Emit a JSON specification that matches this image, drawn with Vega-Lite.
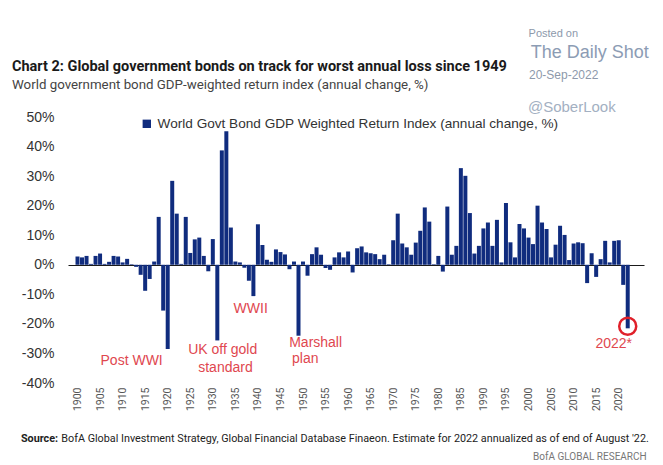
{
  "$schema": "https://vega.github.io/schema/vega-lite/v6.json",
  "width": 576,
  "height": 266,
  "autosize": {"type": "none"},
  "padding": {"left": 68, "top": 117, "right": 19, "bottom": 82},
  "background": "white",
  "config": {
    "view": {"stroke": null},
    "axis": {"labelOverlap": false, "labelBound": false, "labelFlush": false}
  },
  "title": {
    "text": "Chart 2: Global government bonds on track for worst annual loss since 1949",
    "subtitle": "World government bond GDP-weighted return index (annual change, %)",
    "anchor": "start",
    "frame": "group",
    "dx": -56,
    "offset": -64,
    "font": "Roboto",
    "fontSize": 14.5,
    "fontWeight": "bold",
    "color": "#1a1a1a",
    "subtitleFont": "Roboto",
    "subtitleFontSize": 13.3,
    "subtitleColor": "#444444",
    "subtitlePadding": 3
  },
  "data": {"values": [
    {"year": 1900, "value": 2.8}, {"year": 1901, "value": 2.5}, {"year": 1902, "value": 3.0}, {"year": 1903, "value": 0.3},
    {"year": 1904, "value": 3.0}, {"year": 1905, "value": 3.8}, {"year": 1906, "value": 0.3}, {"year": 1907, "value": 1.0},
    {"year": 1908, "value": 3.0}, {"year": 1909, "value": 2.8}, {"year": 1910, "value": 0.8}, {"year": 1911, "value": 2.0},
    {"year": 1912, "value": 0.2}, {"year": 1913, "value": -0.7}, {"year": 1914, "value": -3.4}, {"year": 1915, "value": -8.8},
    {"year": 1916, "value": -4.8}, {"year": 1917, "value": 1.1}, {"year": 1918, "value": 16.2}, {"year": 1919, "value": -15.5},
    {"year": 1920, "value": -28.5}, {"year": 1921, "value": 28.4}, {"year": 1922, "value": 17.3}, {"year": 1923, "value": 0.3},
    {"year": 1924, "value": 16.2}, {"year": 1925, "value": 4.0}, {"year": 1926, "value": 8.6}, {"year": 1927, "value": 9.2},
    {"year": 1928, "value": 3.0}, {"year": 1929, "value": -2.2}, {"year": 1930, "value": 8.7}, {"year": 1931, "value": -25.6},
    {"year": 1932, "value": 38.7}, {"year": 1933, "value": 45.2}, {"year": 1934, "value": 12.6}, {"year": 1935, "value": 1.1},
    {"year": 1936, "value": 0.8}, {"year": 1937, "value": -1.0}, {"year": 1938, "value": -5.4}, {"year": 1939, "value": -10.6},
    {"year": 1940, "value": 13.7}, {"year": 1941, "value": 6.7}, {"year": 1942, "value": 1.7}, {"year": 1943, "value": 1.0},
    {"year": 1944, "value": 5.2}, {"year": 1945, "value": 4.3}, {"year": 1946, "value": 3.5}, {"year": 1947, "value": -1.5},
    {"year": 1948, "value": 1.1}, {"year": 1949, "value": -24.0}, {"year": 1950, "value": 1.1}, {"year": 1951, "value": -3.7},
    {"year": 1952, "value": 3.6}, {"year": 1953, "value": 5.9}, {"year": 1954, "value": 3.4}, {"year": 1955, "value": -1.1},
    {"year": 1956, "value": -1.7}, {"year": 1957, "value": 2.5}, {"year": 1958, "value": 4.2}, {"year": 1959, "value": 2.5},
    {"year": 1960, "value": 4.5}, {"year": 1961, "value": -2.6}, {"year": 1962, "value": 5.6}, {"year": 1963, "value": 6.2},
    {"year": 1964, "value": 4.2}, {"year": 1965, "value": 3.9}, {"year": 1966, "value": 3.6}, {"year": 1967, "value": 1.9},
    {"year": 1968, "value": 3.4}, {"year": 1969, "value": 0.2}, {"year": 1970, "value": 8.3}, {"year": 1971, "value": 17.3},
    {"year": 1972, "value": 7.2}, {"year": 1973, "value": 5.9}, {"year": 1974, "value": 3.4}, {"year": 1975, "value": 7.5},
    {"year": 1976, "value": 11.5}, {"year": 1977, "value": 19.4}, {"year": 1978, "value": 14.6}, {"year": 1979, "value": 0.2},
    {"year": 1980, "value": 3.0}, {"year": 1981, "value": -2.3}, {"year": 1982, "value": 19.7}, {"year": 1983, "value": 3.4},
    {"year": 1984, "value": 6.4}, {"year": 1985, "value": 32.7}, {"year": 1986, "value": 30.1}, {"year": 1987, "value": 17.5},
    {"year": 1988, "value": 3.8}, {"year": 1989, "value": 6.4}, {"year": 1990, "value": 12.3}, {"year": 1991, "value": 14.3},
    {"year": 1992, "value": 6.4}, {"year": 1993, "value": 15.2}, {"year": 1994, "value": 0.8}, {"year": 1995, "value": 20.9},
    {"year": 1996, "value": 7.6}, {"year": 1997, "value": 2.5}, {"year": 1998, "value": 13.8}, {"year": 1999, "value": 12.3},
    {"year": 2000, "value": 9.2}, {"year": 2001, "value": 7.0}, {"year": 2002, "value": 20.0}, {"year": 2003, "value": 14.3},
    {"year": 2004, "value": 12.1}, {"year": 2005, "value": 2.5}, {"year": 2006, "value": 6.8}, {"year": 2007, "value": 13.2},
    {"year": 2008, "value": 10.1}, {"year": 2009, "value": 1.6}, {"year": 2010, "value": 7.2}, {"year": 2011, "value": 7.6},
    {"year": 2012, "value": 7.3}, {"year": 2013, "value": -6.2}, {"year": 2014, "value": 3.9}, {"year": 2015, "value": -4.1},
    {"year": 2016, "value": 1.9}, {"year": 2017, "value": 8.1}, {"year": 2018, "value": 0.8}, {"year": 2019, "value": 8.1},
    {"year": 2020, "value": 8.3}, {"year": 2021, "value": -6.8}, {"year": 2022, "value": -21.5}
  ]},
  "encoding": {
    "x": {
      "field": "year", "type": "quantitative",
      "scale": {"domain": [1899, 2024.5], "nice": false, "zero": false},
      "axis": {
        "title": null, "values": [1900,1905,1910,1915,1920,1925,1930,1935,1940,1945,1950,1955,1960,1965,1970,1975,1980,1985,1990,1995,2000,2005,2010,2015,2020],
        "format": "d", "labelAngle": -90, "domain": false, "ticks": false, "grid": false, "labelOverlap": false,
        "labelFont": "Roboto", "labelFontSize": 10.5, "labelColor": "#555555", "labelPadding": 4
      }
    },
    "y": {
      "field": "value", "type": "quantitative",
      "scale": {"domain": [-40, 50], "nice": false},
      "axis": {
        "title": null, "values": [-40,-30,-20,-10,0,10,20,30,40,50],
        "labelExpr": "datum.value + '%'", "domain": false, "ticks": false, "labelOverlap": false,
        "grid": true, "gridColor": "#1a1a1a", "gridWidth": 1.2,
        "gridOpacity": {"condition": {"test": "datum.value === 0", "value": 1}, "value": 0},
        "labelFont": "Liberation Sans", "labelFontSize": 14, "labelColor": "#333333", "labelPadding": 14
      }
    }
  },
  "layer": [
    {
      "mark": {"type": "bar", "size": 4, "color": "#102c7e"},
      "encoding": {
        "color": {
          "datum": "World Govt Bond GDP Weighted Return Index (annual change, %)",
          "scale": {"range": ["#102c7e"]},
          "legend": {
            "title": null, "orient": "none", "legendX": 72, "legendY": 0,
            "symbolType": "square", "symbolSize": 70, "symbolStrokeWidth": 0,
            "labelFont": "Liberation Sans", "labelFontSize": 13.6, "labelColor": "#333333", "labelLimit": 600
          }
        }
      }
    },
    {
      "data": {"values": [
        {"year": 1912.0, "value": -32.4, "label": "Post WWI"},
        {"year": 1932.2, "value": -28.7, "label": "UK off gold"},
        {"year": 1932.8, "value": -34.8, "label": "standard"},
        {"year": 1938.4, "value": -14.9, "label": "WWII"},
        {"year": 1952.8, "value": -26.4, "label": "Marshall"},
        {"year": 1950.5, "value": -31.8, "label": "plan"},
        {"year": 2018.9, "value": -26.7, "label": "2022*"}
      ]},
      "mark": {"type": "text", "font": "Liberation Sans", "fontSize": 14, "color": "#e0474f", "align": "center", "baseline": "middle"},
      "encoding": {"text": {"field": "label"}}
    },
    {
      "data": {"values": [{"year": 2022, "value": -20.8}]},
      "mark": {"type": "point", "shape": "circle", "filled": false, "size": 290, "stroke": "#e0202a", "strokeWidth": 2.5, "opacity": 1}
    },
    {
      "data": {"values": [{"year": 2005.5, "value": 78.0, "label": "Posted on"}]},
      "mark": {"type": "text", "font": "Liberation Sans", "fontSize": 11, "color": "#8d99ab", "align": "center", "baseline": "middle"},
      "encoding": {"text": {"field": "label"}}
    },
    {
      "data": {"values": [{"year": 2013.6, "value": 71.6, "label": "The Daily Shot"}]},
      "mark": {"type": "text", "font": "Liberation Sans", "fontSize": 18, "color": "#8c9cb4", "align": "center", "baseline": "middle"},
      "encoding": {"text": {"field": "label"}}
    },
    {
      "data": {"values": [{"year": 2007.8, "value": 64.2, "label": "20-Sep-2022"}]},
      "mark": {"type": "text", "font": "Liberation Sans", "fontSize": 12, "color": "#8d99ab", "align": "center", "baseline": "middle"},
      "encoding": {"text": {"field": "label"}}
    },
    {
      "data": {"values": [{"year": 2009.6, "value": 53.4, "label": "@SoberLook"}]},
      "mark": {"type": "text", "font": "Liberation Sans", "fontSize": 15, "color": "#a3b0c2", "align": "center", "baseline": "middle"},
      "encoding": {"text": {"field": "label"}}
    },
    {
      "data": {"values": [{"year": 1887.45, "value": -58.8, "label": "Source:"}]},
      "mark": {"type": "text", "font": "Roboto", "fontSize": 10.8, "fontWeight": "bold", "color": "#222222", "align": "left", "baseline": "middle"},
      "encoding": {"text": {"field": "label"}}
    },
    {
      "data": {"values": [{"year": 1896.4, "value": -58.8, "label": "BofA Global Investment Strategy, Global Financial Database Finaeon. Estimate for 2022 annualized as of end of August '22."}]},
      "mark": {"type": "text", "font": "Roboto", "fontSize": 10.8, "color": "#222222", "align": "left", "baseline": "middle"},
      "encoding": {"text": {"field": "label"}}
    },
    {
      "data": {"values": [{"year": 2026.2, "value": -64.9, "label": "BofA GLOBAL RESEARCH"}]},
      "mark": {"type": "text", "font": "Roboto", "fontSize": 10, "color": "#777777", "align": "right", "baseline": "middle"},
      "encoding": {"text": {"field": "label"}}
    }
  ]
}
